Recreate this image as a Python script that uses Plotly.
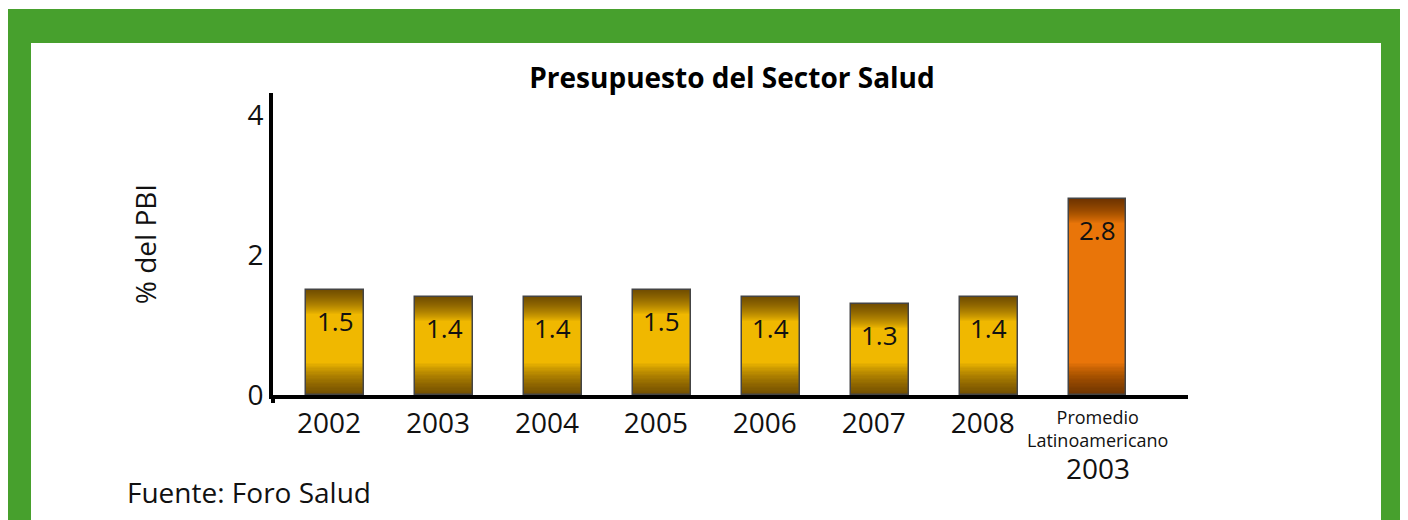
import plotly.graph_objects as go

categories = ["2002", "2003", "2004", "2005", "2006", "2007", "2008", ""]
extra_label_top = "Promedio<br>Latinoamericano"
extra_label_year = "2003"
values = [1.5, 1.4, 1.4, 1.5, 1.4, 1.3, 1.4, 2.8]
labels = ["1.5", "1.4", "1.4", "1.5", "1.4", "1.3", "1.4", "2.8"]
bar_colors = ["#F0B800"] * 7 + ["#E97509"]
y_ticks = [0, 2, 4]

FONT = "Open Sans"
OFF = 8  # page offset of the figure (body margin)
W, H = 1408, 520
# plot area in page pixels
PL, PR, PT, PB = 273, 1188, 93, 395
L, R, T, B = PL - OFF, PR - OFF, PT - OFF, PB - OFF
YMAX = 4.314
BARW = 0.53
x = list(range(len(values)))


def px_x(p):  # page px -> paper x
    return (p - PL) / (PR - PL)


def px_y(p):  # page px -> paper y
    return (PB - p) / (PB - PT)


fig = go.Figure()

# main bars
fig.add_trace(go.Bar(x=x, y=values, width=BARW, marker=dict(color=bar_colors, line=dict(width=0)),
                     hoverinfo="skip", showlegend=False))

# shading layers (top and bottom darkening)
N = 24
px_unit = (PB - PT) / YMAX
top_band = 24 / px_unit
bot_band = 32 / px_unit
shade = "rgba(60,35,0,0.04)"
for k in range(1, N + 1):
    ht = top_band * k / N
    fig.add_trace(go.Bar(x=x, y=[ht] * len(values), base=[v - ht for v in values], width=BARW,
                         marker=dict(color=shade, line=dict(width=0)),
                         hoverinfo="skip", showlegend=False))
    hb = bot_band * k / N
    fig.add_trace(go.Bar(x=x, y=[hb] * len(values), base=[0] * len(values), width=BARW,
                         marker=dict(color=shade, line=dict(width=0)),
                         hoverinfo="skip", showlegend=False))

# outline
fig.add_trace(go.Bar(x=x, y=values, width=BARW,
                     marker=dict(color="rgba(0,0,0,0)", line=dict(color="#444444", width=1.5)),
                     hoverinfo="skip", showlegend=False))

# value labels
for xi, v, t in zip(x, values, labels):
    fig.add_annotation(x=xi, y=v, text=t, showarrow=False, yanchor="top", yshift=-11,
                       font=dict(family=FONT, size=26, color="#111111"))

# last category label (two sizes)
fig.add_annotation(x=x[-1], y=px_y(403), yref="paper", text=extra_label_top, showarrow=False,
                   yanchor="top", xanchor="center", font=dict(family=FONT, size=18, color="#111111"))
fig.add_annotation(x=x[-1], y=px_y(468), yref="paper", text=extra_label_year, showarrow=False,
                   yanchor="middle", xanchor="center", font=dict(family=FONT, size=28, color="#111111"))

shapes = [
    dict(type="rect", xref="paper", yref="paper", x0=px_x(8), x1=px_x(1404), y0=px_y(560), y1=px_y(9),
         fillcolor="#47A02D", line=dict(width=0), layer="below"),
    dict(type="rect", xref="paper", yref="paper", x0=px_x(31), x1=px_x(1381), y0=px_y(560), y1=px_y(43),
         fillcolor="#FFFFFF", line=dict(width=0), layer="below"),
    dict(type="line", xref="paper", yref="paper", x0=0, x1=0, y0=px_y(403), y1=px_y(PB),
         line=dict(color="black", width=4)),
]

fig.add_annotation(xref="paper", yref="paper", x=px_x(125), y=px_y(492), text="Fuente: Foro Salud",
                   showarrow=False, xanchor="left", yanchor="middle",
                   font=dict(family=FONT, size=28, color="#111111"))

fig.update_layout(
    width=W, height=H,
    margin=dict(l=L, r=W - R, t=T, b=H - B, autoexpand=False),
    paper_bgcolor="white", plot_bgcolor="rgba(0,0,0,0)",
    barmode="overlay", bargap=0,
    shapes=shapes,
    title=dict(text="<b>Presupuesto del Sector Salud</b>", x=px_x(732), xref="paper",
               y=1 - (78 - OFF) / H, yref="container", xanchor="center", yanchor="middle",
               font=dict(family=FONT, size=28, color="black")),
    font=dict(family=FONT, color="#111111"),
    xaxis=dict(range=[-0.57, 7.83], tickvals=x, ticktext=categories, showgrid=False, zeroline=False,
               showline=True, linecolor="black", linewidth=4, ticks="", ticklabelshift=-6,
               tickfont=dict(family=FONT, size=28, color="#111111")),
    yaxis=dict(range=[0, YMAX], tickvals=y_ticks, ticktext=[str(v) for v in y_ticks], showgrid=False,
               zeroline=False, showline=True, linecolor="black", linewidth=4, ticks="",
               tickfont=dict(family=FONT, size=28, color="#111111"),
               title=dict(text="% del PBI", standoff=84, font=dict(family=FONT, size=28, color="#111111"))),
)

fig.write_html("out.html")
